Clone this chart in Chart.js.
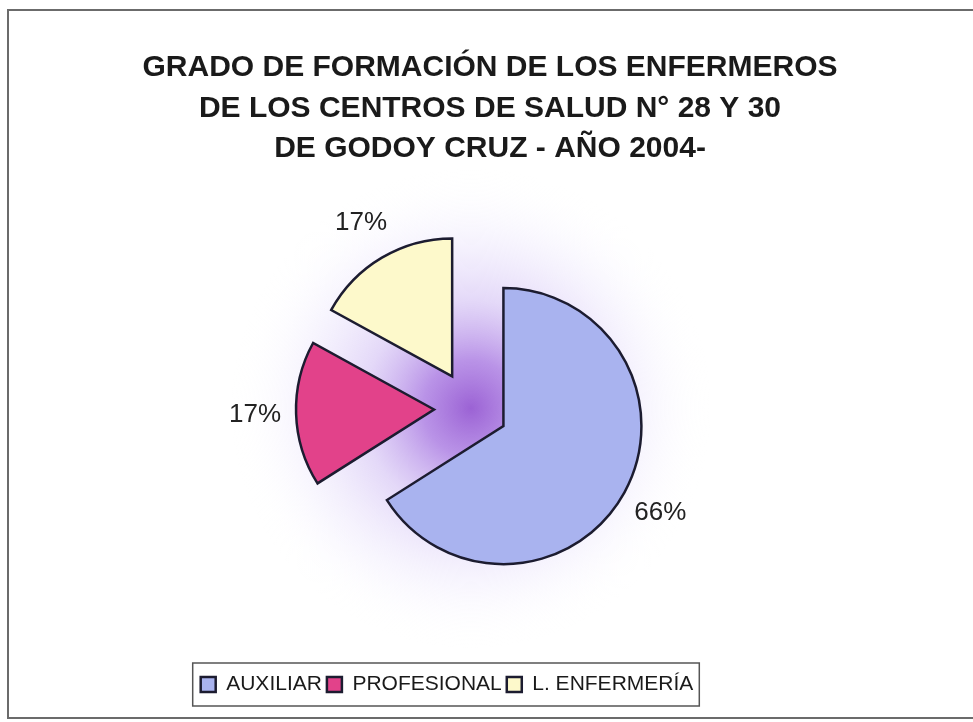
<!DOCTYPE html>
<html>
<head>
<meta charset="utf-8">
<title>Grado de formación de los enfermeros</title>
<script src="https://cdn.jsdelivr.net/npm/chart.js@4.4.0/dist/chart.umd.min.js"></script>
<style>
    html, body { margin: 0; padding: 0; background: #fff; }
    #wrap { position: relative; width: 973px; height: 722px; overflow: hidden; }
    #frame {
        position: absolute; left: 7px; top: 9px; width: 1000px; height: 710px;
        border: 2px solid #6b6b6b; border-right: none; box-sizing: border-box;
    }
    #pieChart { position: absolute; left: 0; top: 0; }
</style>
</head>
<body>
<div id="wrap">
    <div id="frame"></div>
    <canvas id="pieChart" width="973" height="722"></canvas>
</div>
<script>
// Data
const titleLines = [
    'GRADO DE FORMACIÓN DE LOS ENFERMEROS',
    'DE LOS CENTROS DE SALUD N° 28 Y 30',
    'DE GODOY CRUZ - AÑO 2004-'
];
const categories = ['AUXILIAR', 'PROFESIONAL', 'L. ENFERMERÍA'];
const percentages = [66, 17, 17];
const sliceColors = ['#a9b3ef', '#e2428a', '#fdf9cb'];

const fontFamily = "'Liberation Sans', Arial, sans-serif";
const titleShift = 19;    // title sits a bit right of the pie
const legendShift = -24;  // legend sits a bit left of the pie
const pieRadius = 138;
const explode = 37;       // every slice pulled out from the centre

function pieCenter(chart) {
    const a = chart.chartArea;
    return { x: (a.left + a.right) / 2, y: (a.top + a.bottom) / 2 };
}

// pull each slice out along its middle angle (Excel-style exploded pie)
const explodePlugin = {
    id: 'explode',
    beforeDatasetsDraw(chart) {
        const c = pieCenter(chart);
        chart.getDatasetMeta(0).data.forEach(arc => {
            const mid = (arc.startAngle + arc.endAngle) / 2;
            arc.x = c.x + Math.cos(mid) * explode;
            arc.y = c.y + Math.sin(mid) * explode;
        });
    }
};

// soft purple glow behind the exploded pie
const glowPlugin = {
    id: 'glow',
    beforeDatasetsDraw(chart) {
        const c = pieCenter(chart);
        const ctx = chart.ctx;
        const r = 240;
        const g = ctx.createRadialGradient(c.x, c.y, 0, c.x, c.y, r);
        g.addColorStop(0, 'rgba(150, 90, 210, 0.95)');
        g.addColorStop(0.2, 'rgba(168, 120, 225, 0.8)');
        g.addColorStop(0.45, 'rgba(195, 170, 240, 0.45)');
        g.addColorStop(0.75, 'rgba(220, 210, 250, 0.18)');
        g.addColorStop(1, 'rgba(255, 255, 255, 0)');
        ctx.save();
        ctx.fillStyle = g;
        ctx.beginPath();
        ctx.arc(c.x, c.y, r, 0, Math.PI * 2);
        ctx.fill();
        ctx.restore();
    }
};

// percentage labels outside each slice
const pctLabelPlugin = {
    id: 'pctLabels',
    afterDatasetsDraw(chart) {
        const ctx = chart.ctx;
        const meta = chart.getDatasetMeta(0);
        ctx.save();
        ctx.font = '26px ' + fontFamily;
        ctx.fillStyle = '#222';
        ctx.textAlign = 'center';
        ctx.textBaseline = 'middle';
        meta.data.forEach((arc, i) => {
            const mid = (arc.startAngle + arc.endAngle) / 2;
            const dist = arc.outerRadius + 41;
            ctx.fillText(percentages[i] + '%', arc.x + Math.cos(mid) * dist, arc.y + Math.sin(mid) * dist);
        });
        ctx.restore();
    }
};

// move title and legend sideways after layout
const nudgePlugin = {
    id: 'nudge',
    afterLayout(chart) {
        if (chart.titleBlock) {
            chart.titleBlock.left += titleShift;
            chart.titleBlock.right += titleShift;
        }
        if (chart.legend) {
            chart.legend.left += legendShift;
            chart.legend.right += legendShift;
        }
    }
};

// thin frame round the legend
const legendFramePlugin = {
    id: 'legendFrame',
    afterDraw(chart) {
        const boxes = chart.legend && chart.legend.legendHitBoxes;
        if (!boxes || !boxes.length) return;
        const left = Math.min(...boxes.map(b => b.left));
        const right = Math.max(...boxes.map(b => b.left + b.width));
        const top = Math.min(...boxes.map(b => b.top));
        const bottom = Math.max(...boxes.map(b => b.top + b.height));
        const ctx = chart.ctx;
        ctx.save();
        ctx.strokeStyle = '#555';
        ctx.lineWidth = 1.5;
        ctx.strokeRect(left - 8, top - 11, right - left + 14, bottom - top + 22);
        ctx.restore();
    }
};

const ctx = document.getElementById('pieChart').getContext('2d');
const pieChart = new Chart(ctx, {
    type: 'pie',
    data: {
        labels: categories,
        datasets: [{
            data: percentages,
            backgroundColor: sliceColors,
            borderColor: '#1c1c30',
            borderWidth: 2.5,
            borderJoinStyle: 'miter',
            radius: pieRadius,
            clip: false
        }]
    },
    options: {
        responsive: false,
        animation: false,
        events: [],
        layout: {
            padding: { top: 12, left: 0, right: 31, bottom: 17 }
        },
        plugins: {
            title: {
                display: true,
                text: titleLines,
                color: '#1a1a1a',
                font: { family: fontFamily, size: 30, weight: 'bold', lineHeight: 1.34 },
                padding: { top: 36, bottom: -21 }
            },
            legend: {
                position: 'bottom',
                labels: {
                    color: '#1a1a1a',
                    font: { family: fontFamily, size: 21 },
                    boxWidth: 15,
                    boxHeight: 15,
                    padding: 5
                }
            },
            tooltip: { enabled: false }
        }
    },
    plugins: [glowPlugin, explodePlugin, pctLabelPlugin, nudgePlugin, legendFramePlugin]
});
</script>
</body>
</html>
